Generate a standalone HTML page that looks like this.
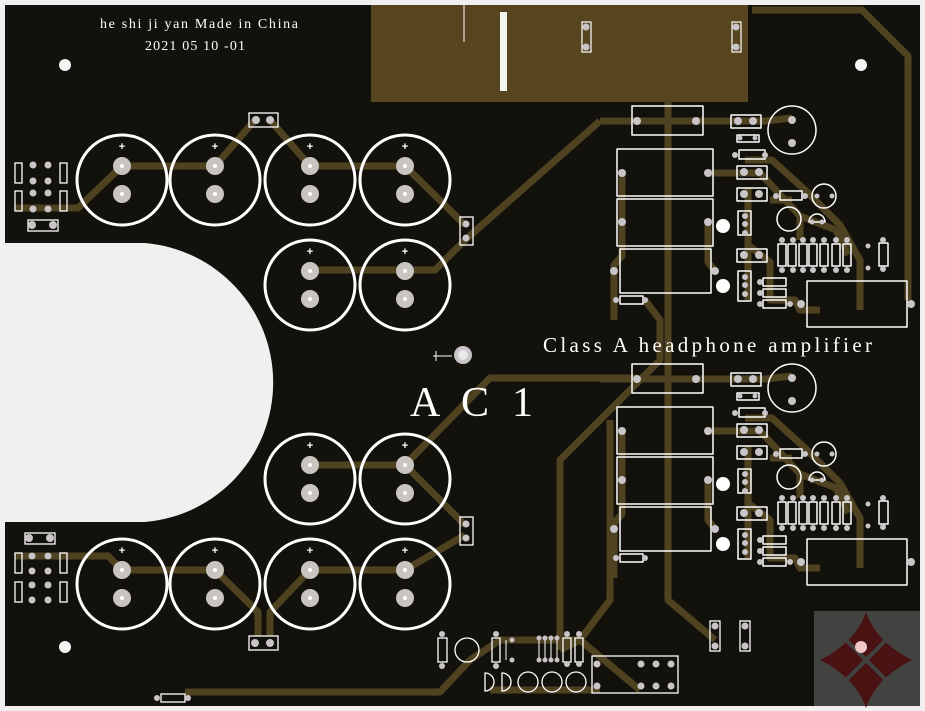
<!DOCTYPE html>
<html><head><meta charset="utf-8"><style>
html,body{margin:0;padding:0;background:#f0f0f0;width:925px;height:711px;overflow:hidden}
svg{display:block}
</style></head><body>
<svg width="925" height="711" viewBox="0 0 925 711" xmlns="http://www.w3.org/2000/svg">
<defs>
<g id="cap">
<circle r="45" fill="none" stroke="#fff" stroke-width="3"/>
<circle cx="0" cy="-14" r="9" fill="#c8c4c0"/><circle cx="0" cy="-14" r="2" fill="#fff"/>
<circle cx="0" cy="14" r="9" fill="#c8c4c0"/><circle cx="0" cy="14" r="2" fill="#fff"/>
<text x="0" y="-30" fill="#fff" font-family="Liberation Sans, sans-serif" font-size="11" text-anchor="middle" font-weight="bold">+</text>
</g>
<g id="ch" stroke-linejoin="round">
<g fill="none" stroke="#4f4220" stroke-width="7">
<path d="M600,121 H765 L792,118"/>
<path d="M622,173 V256 L614,265 V320"/>
<path d="M708,173 H760 L800,216 L836,230 L848,255"/>
<path d="M708,222 V262 L715,271"/>
<path d="M748,188 V300"/>
<path d="M745,160 H772 L805,190 L840,225 L860,260 V310"/>
<path d="M748,245 L770,262 V300 H795 L800,310 H820"/>
<path d="M770,200 H792 M800,215 V240"/>
</g>
<g fill="none" stroke="#fff" stroke-width="1.5">
<rect x="632" y="106" width="71" height="29"/>
<rect x="617" y="149" width="96" height="47"/>
<rect x="617" y="199" width="96" height="47"/>
<rect x="620" y="249" width="91" height="44"/>
<rect x="620" y="296" width="23" height="8"/>
<rect x="731" y="115" width="30" height="13"/>
<rect x="737" y="135" width="22" height="7"/>
<rect x="739" y="150" width="26" height="9"/>
<rect x="737" y="166" width="30" height="13"/>
<rect x="737" y="188" width="30" height="13"/>
<rect x="780" y="191" width="22" height="9"/>
<rect x="738" y="211" width="13" height="24"/>
<rect x="737" y="249" width="30" height="13"/>
<rect x="738" y="271" width="13" height="30"/>
<rect x="763" y="278" width="23" height="8"/>
<rect x="763" y="289" width="23" height="8"/>
<rect x="763" y="300" width="23" height="8"/>
<rect x="807" y="281" width="100" height="46"/>
<circle cx="792" cy="130" r="24"/>
<circle cx="824" cy="196" r="12"/>
<circle cx="789" cy="219" r="12"/>
<path d="M809,222 A8,8 0 0 1 825,222 Z"/>
<rect x="778" y="244" width="8" height="22"/><rect x="788" y="244" width="8" height="22"/>
<rect x="799" y="244" width="8" height="22"/><rect x="809" y="244" width="8" height="22"/>
<rect x="820" y="244" width="8" height="22"/><rect x="832" y="244" width="8" height="22"/>
<rect x="843" y="244" width="8" height="22"/><rect x="879" y="243" width="9" height="23"/>
</g>
<g fill="#c8c4c8">
<circle cx="637" cy="121" r="4"/><circle cx="696" cy="121" r="4"/>
<circle cx="622" cy="173" r="4"/><circle cx="708" cy="173" r="4"/>
<circle cx="622" cy="222" r="4"/><circle cx="708" cy="222" r="4"/>
<circle cx="614" cy="271" r="4"/><circle cx="715" cy="271" r="4"/>
<circle cx="616" cy="300" r="3"/><circle cx="645" cy="300" r="3"/>
<circle cx="738" cy="121" r="4"/><circle cx="753" cy="121" r="4"/>
<circle cx="740" cy="138" r="2.5"/><circle cx="755" cy="138" r="2.5"/>
<circle cx="735" cy="155" r="3"/><circle cx="765" cy="155" r="3"/>
<circle cx="744" cy="172" r="4"/><circle cx="759" cy="172" r="4"/>
<circle cx="744" cy="194" r="4"/><circle cx="759" cy="194" r="4"/>
<circle cx="776" cy="196" r="3"/><circle cx="805" cy="196" r="3"/>
<circle cx="792" cy="120" r="4"/><circle cx="792" cy="143" r="4"/>
<circle cx="745" cy="216" r="3"/><circle cx="745" cy="224" r="3"/><circle cx="745" cy="233" r="3"/>
<circle cx="744" cy="255" r="4"/><circle cx="759" cy="255" r="4"/>
<circle cx="745" cy="277" r="3"/><circle cx="745" cy="285" r="3"/><circle cx="745" cy="294" r="3"/>
<circle cx="760" cy="282" r="3"/><circle cx="760" cy="293" r="3"/><circle cx="760" cy="304" r="3"/>
<circle cx="790" cy="304" r="3"/><circle cx="801" cy="304" r="4"/><circle cx="911" cy="304" r="4"/>
<circle cx="782" cy="240" r="3"/><circle cx="793" cy="240" r="3"/><circle cx="803" cy="240" r="3"/><circle cx="813" cy="240" r="3"/><circle cx="824" cy="240" r="3"/><circle cx="836" cy="240" r="3"/><circle cx="847" cy="240" r="3"/>
<circle cx="782" cy="270" r="3"/><circle cx="793" cy="270" r="3"/><circle cx="803" cy="270" r="3"/><circle cx="813" cy="270" r="3"/><circle cx="824" cy="270" r="3"/><circle cx="836" cy="270" r="3"/><circle cx="847" cy="270" r="3"/>
<circle cx="883" cy="240" r="3"/><circle cx="883" cy="269" r="3"/><circle cx="868" cy="246" r="2.5"/><circle cx="868" cy="268" r="2.5"/>
<circle cx="817" cy="196" r="2.5"/><circle cx="832" cy="196" r="2.5"/>
<circle cx="812" cy="222" r="2.5"/><circle cx="822" cy="222" r="2.5"/>
</g>
<circle cx="723" cy="226" r="7" fill="#fff"/><circle cx="723" cy="286" r="7" fill="#fff"/>
</g>
</defs>

<rect x="5" y="5" width="915" height="701" fill="#12110b"/>
<path d="M0,243 H145 A140,140 0 0 1 145,522 H0 Z" fill="#f0f0f0"/>
<rect x="371" y="5" width="377" height="97" fill="#574520"/>
<rect x="500" y="12" width="7" height="79" fill="#f4f4f0"/>
<line x1="464" y1="5" x2="464" y2="42" stroke="#fff" stroke-width="1"/>
<rect x="582" y="22" width="9" height="30" fill="none" stroke="#fff" stroke-width="1.2"/>
<circle cx="586" cy="27" r="3.5" fill="#c8c4c8"/><circle cx="586" cy="47" r="3.5" fill="#c8c4c8"/>
<rect x="732" y="22" width="9" height="30" fill="none" stroke="#fff" stroke-width="1.2"/>
<circle cx="736" cy="27" r="3.5" fill="#c8c4c8"/><circle cx="736" cy="47" r="3.5" fill="#c8c4c8"/>

<g fill="none" stroke="#4f4220" stroke-width="7" stroke-linejoin="round">
<path d="M752,10 H862 L908,56 V300"/>
<path d="M15,208 H78 L122,166 H215 L255,120 M270,120 L310,166 H405 L465,225"/>
<path d="M310,270 H435 L465,240 L600,121"/>
<path d="M15,556 H108 L122,570 H215 L258,612 V636 M270,636 V612 L310,570 H405 L465,535"/>
<path d="M310,465 H405 L490,378 H637"/>
<path d="M405,465 L465,525"/>
<path d="M668,100 V600 L715,640"/>
<path d="M645,300 L660,320 V360 L560,460 V630 L560,650"/>
<path d="M610,420 V600 L580,640 L560,650"/>
<path d="M185,692 H440 L470,660"/>
<path d="M490,690 H600"/>
<path d="M470,660 L500,640 H580 L640,690"/>
</g>
<g transform="translate(0,0)"><use href="#ch"/></g>
<g transform="translate(0,258)"><use href="#ch"/></g>

<use href="#cap" x="122" y="180"/><use href="#cap" x="215" y="180"/><use href="#cap" x="310" y="180"/><use href="#cap" x="405" y="180"/>
<use href="#cap" x="310" y="285"/><use href="#cap" x="405" y="285"/>
<use href="#cap" x="310" y="479"/><use href="#cap" x="405" y="479"/>
<use href="#cap" x="122" y="584"/><use href="#cap" x="215" y="584"/><use href="#cap" x="310" y="584"/><use href="#cap" x="405" y="584"/>

<g fill="none" stroke="#fff" stroke-width="1.3">
<rect x="249" y="113" width="29" height="14"/>
<rect x="249" y="636" width="29" height="14"/>
<rect x="460" y="217" width="13" height="28"/>
<rect x="460" y="517" width="13" height="28"/>
<rect x="28" y="220" width="30" height="11"/>
<rect x="25" y="533" width="30" height="11"/>
<rect x="15" y="163" width="7" height="20"/><rect x="60" y="163" width="7" height="20"/>
<rect x="15" y="191" width="7" height="20"/><rect x="60" y="191" width="7" height="20"/>
<rect x="15" y="553" width="7" height="20"/><rect x="60" y="553" width="7" height="20"/>
<rect x="15" y="582" width="7" height="20"/><rect x="60" y="582" width="7" height="20"/>
<rect x="710" y="621" width="10" height="30"/><rect x="740" y="621" width="10" height="30"/>
<rect x="592" y="656" width="86" height="37"/>
<rect x="161" y="694" width="24" height="8"/>
<rect x="438" y="638" width="9" height="24"/>
<circle cx="467" cy="650" r="12"/>
<rect x="492" y="638" width="8" height="24"/>
<rect x="563" y="638" width="8" height="24"/><rect x="575" y="638" width="8" height="24"/>
<circle cx="528" cy="682" r="10"/><circle cx="552" cy="682" r="10"/><circle cx="576" cy="682" r="10"/>
<path d="M485,673 A9,9 0 0 1 485,691 Z M502,673 A9,9 0 0 1 502,691 Z"/>
</g>
<g fill="#c8c4c8">
<circle cx="256" cy="120" r="4"/><circle cx="270" cy="120" r="4"/>
<circle cx="255" cy="643" r="4"/><circle cx="270" cy="643" r="4"/>
<circle cx="466" cy="224" r="3.5"/><circle cx="466" cy="238" r="3.5"/>
<circle cx="466" cy="524" r="3.5"/><circle cx="466" cy="538" r="3.5"/>
<circle cx="32" cy="225" r="4"/><circle cx="53" cy="225" r="4"/>
<circle cx="29" cy="538" r="4"/><circle cx="50" cy="538" r="4"/>
<circle cx="33" cy="165" r="3.5"/><circle cx="48" cy="165" r="3.5"/><circle cx="33" cy="181" r="3.5"/><circle cx="48" cy="181" r="3.5"/>
<circle cx="33" cy="193" r="3.5"/><circle cx="48" cy="193" r="3.5"/><circle cx="33" cy="209" r="3.5"/><circle cx="48" cy="209" r="3.5"/>
<circle cx="32" cy="556" r="3.5"/><circle cx="48" cy="556" r="3.5"/><circle cx="32" cy="571" r="3.5"/><circle cx="48" cy="571" r="3.5"/>
<circle cx="32" cy="585" r="3.5"/><circle cx="48" cy="585" r="3.5"/><circle cx="32" cy="600" r="3.5"/><circle cx="48" cy="600" r="3.5"/>
<circle cx="715" cy="626" r="3.5"/><circle cx="715" cy="646" r="3.5"/><circle cx="745" cy="626" r="3.5"/><circle cx="745" cy="646" r="3.5"/>
<circle cx="597" cy="664" r="3.5"/><circle cx="641" cy="664" r="3.5"/><circle cx="656" cy="664" r="3.5"/><circle cx="671" cy="664" r="3.5"/>
<circle cx="597" cy="686" r="3.5"/><circle cx="641" cy="686" r="3.5"/><circle cx="656" cy="686" r="3.5"/><circle cx="671" cy="686" r="3.5"/>
<circle cx="157" cy="698" r="3"/><circle cx="188" cy="698" r="3"/>
<circle cx="442" cy="634" r="3"/><circle cx="442" cy="666" r="3"/>
<circle cx="496" cy="634" r="3"/><circle cx="496" cy="666" r="3"/>
<circle cx="567" cy="634" r="3"/><circle cx="579" cy="634" r="3"/><circle cx="567" cy="664" r="3"/><circle cx="579" cy="664" r="3"/>
<circle cx="512" cy="640" r="2.5"/><circle cx="512" cy="660" r="2.5"/>
<circle cx="539" cy="638" r="2.5"/><circle cx="545" cy="638" r="2.5"/><circle cx="551" cy="638" r="2.5"/><circle cx="557" cy="638" r="2.5"/>
<circle cx="539" cy="660" r="2.5"/><circle cx="545" cy="660" r="2.5"/><circle cx="551" cy="660" r="2.5"/><circle cx="557" cy="660" r="2.5"/>
</g>
<g stroke="#fff" stroke-width="1"><line x1="539" y1="640" x2="539" y2="658"/><line x1="545" y1="640" x2="545" y2="658"/><line x1="551" y1="640" x2="551" y2="658"/><line x1="557" y1="640" x2="557" y2="658"/><line x1="506" y1="640" x2="506" y2="660"/></g>

<circle cx="65" cy="65" r="6" fill="#f4f4f4"/>
<circle cx="861" cy="65" r="6" fill="#f4f4f4"/>
<circle cx="65" cy="647" r="6" fill="#f4f4f4"/>
<circle cx="463" cy="355" r="9" fill="#c8c4c8"/><circle cx="463" cy="355" r="5" fill="#e8e8e8"/>
<line x1="433" y1="356" x2="452" y2="356" stroke="#fff" stroke-width="1"/><line x1="436" y1="351" x2="436" y2="361" stroke="#fff" stroke-width="1"/>

<g fill="#fff" font-family="Liberation Serif, serif">
<text x="100" y="28" font-size="14" textLength="198" lengthAdjust="spacing">he  shi  ji  yan  Made  in  China</text>
<text x="145" y="50" font-size="14" textLength="100" lengthAdjust="spacing">2021  05  10  -01</text>
<text x="543" y="352" font-size="21" textLength="329" lengthAdjust="spacing">Class  A  headphone  amplifier</text>
<text x="410" y="416" font-size="42" textLength="123" lengthAdjust="spacing">A  C  1</text>
</g>

<rect x="814" y="611" width="106" height="95" fill="#424240"/>
<path d="M866,612 Q876,642 912,660 Q876,678 866,708 Q856,678 820,660 Q856,642 866,612 Z" fill="#4a1212"/>
<path d="M846,640 L886,680 M886,640 L846,680" stroke="#424240" stroke-width="4"/>
<circle cx="861" cy="647" r="6" fill="#f0c8c8"/>
</svg>
</body></html>
